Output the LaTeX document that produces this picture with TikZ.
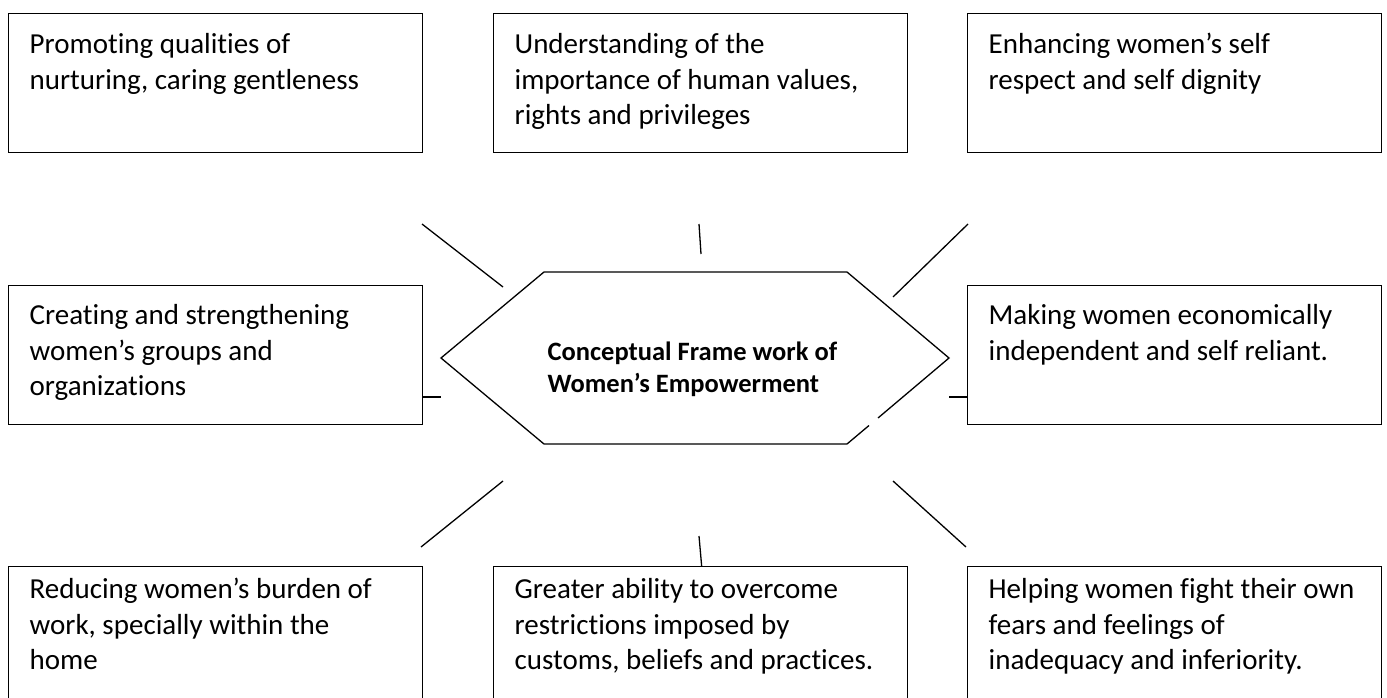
\documentclass[tikz,border=0pt]{standalone}
\usepackage{fontspec}
\setmainfont{Carlito}[Ligatures=NoCommon]
\usetikzlibrary{positioning}

\begin{document}
\begin{tikzpicture}[x=1pt,y=-1pt,line width=1.3pt,
  infobox/.style={draw, minimum width=414pt, minimum height=139pt, anchor=north west, inner sep=0pt},
  infotext/.style={anchor=base west, align=left, inner sep=0pt, font=\fontsize{29}{35.5}\selectfont},
  coretext/.style={anchor=base west, align=left, inner sep=0pt, font=\fontsize{26.5}{32}\selectfont\bfseries}]
\useasboundingbox (0,0) rectangle (1387,698);
\foreach \n/\x/\y in {promote/8/13, values/493/13, dignity/967/13, groups/8/285, economy/967/285, burden/8/566, customs/493/566, fears/967/566} {
\node[infobox] (\n) at (\x,\y) {};
}
\node[infotext] (promote-t) at ([shift={(21,76.5)}]promote.north west) {Promoting qualities of\\nurturing, caring gentleness};
\node[infotext] (values-t) at ([shift={(21,112)}]values.north west) {Understanding of the\\importance of human values,\\rights and privileges};
\node[infotext] (dignity-t) at ([shift={(21,76.5)}]dignity.north west) {Enhancing women’s self\\respect and self dignity};
\node[infotext] (groups-t) at ([shift={(21,110.5)}]groups.north west) {Creating and strengthening\\women’s groups and\\organizations};
\node[infotext] (economy-t) at ([shift={(21,75)}]economy.north west) {Making women economically\\independent and self reliant.};
\node[infotext] (burden-t) at ([shift={(21,103.5)}]burden.north west) {Reducing women’s burden of\\work, specially within the\\home};
\node[infotext] (customs-t) at ([shift={(21,103.5)}]customs.north west) {Greater ability to overcome\\restrictions imposed by\\customs, beliefs and practices.};
\node[infotext] (fears-t) at ([shift={(21,103.5)}]fears.north west) {Helping women fight their own\\fears and feelings of\\inadequacy and inferiority.};

\coordinate (hexw) at (441,358);
\coordinate (hexe) at (949,358);
\coordinate (hexnw) at (544,272);
\coordinate (hexne) at (847,272);
\coordinate (hexsw) at (544,444);
\coordinate (hexse) at (847,444);
\draw (878,418) -- (hexe) -- (hexne) -- (hexnw) -- (hexw) -- (hexsw) -- (hexse) -- (869,425.5);
\node[coretext] (core) at (547,392) {Conceptual Frame work of\\Women’s Empowerment};

\coordinate (nw1) at (422,224);
\coordinate (nw2) at (503,287);
\coordinate (n1) at (699,224);
\coordinate (n2) at (701,254);
\coordinate (ne1) at (968,224);
\coordinate (ne2) at (893,297);
\coordinate (sw1) at (503,481);
\coordinate (sw2) at (421,547);
\coordinate (s1) at (699,536);
\coordinate (se1) at (893,481);
\coordinate (se2) at (966,547);
\coordinate (wtick) at (441,397);
\coordinate (etick) at (949,397);
\draw (nw1) -- (nw2);
\draw (n1) -- (n2);
\draw (ne1) -- (ne2);
\draw (sw1) -- (sw2);
\draw (s1) -- ([xshift=1pt]customs.north);
\draw (se1) -- (se2);
\draw (groups.east |- wtick) -- (wtick);
\draw (etick) -- (economy.west |- etick);
\end{tikzpicture}
\end{document}
